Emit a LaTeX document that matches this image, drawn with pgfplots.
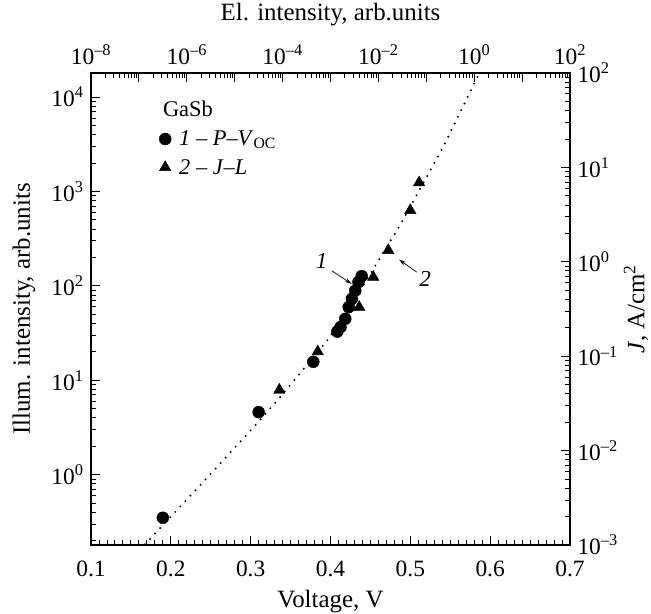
\documentclass[border=0pt]{standalone}
\usepackage{fontspec}
\setmainfont{Liberation Serif}
\usepackage{pgfplots}
\pgfplotsset{compat=1.18}
\usetikzlibrary{arrows.meta}
\newcommand\tp[1]{10\textsuperscript{#1}}
\pgfplotsset{
  common/.style={
    width=479bp, height=472bp, scale only axis,
    at={(0,0)}, anchor=south west,
    axis line style={-, line width=1.3bp, line cap=rect},
    every outer x axis line/.append style={-},
    every outer y axis line/.append style={-},
    tick style={line width=0.9bp, black},
    major tick length=9bp, minor tick length=5bp,
    tick align=inside,
    tick label style={font=\fontsize{23.5}{27}\selectfont},
    label style={font=\fontsize{25}{29}\selectfont, inner sep=0pt},
    /pgf/number format/assume math mode=true,
  }
}
\begin{document}
\begin{tikzpicture}
\path[use as bounding box] (-91bp,-69bp) rectangle (560bp,545bp);
\begin{axis}[common,
  axis x line*=bottom, axis y line*=left,
  xmin=0.1, xmax=0.7,
  xtick={0.1,0.2,0.3,0.4,0.5,0.6,0.7},
  xticklabels={0.1,0.2,0.3,0.4,0.5,0.6,0.7},
  minor x tick num=9,
  xticklabel style={yshift=-12bp},
  yticklabel style={xshift=-4bp},
  ymode=log, ymin=0.18, ymax=18000,
  ytick={1,10,100,1000,10000},
  yticklabels={\tp{0},\tp{1},\tp{2},\tp{3},\tp{4}},
  minor ytick={0.2,0.3,0.4,0.5,0.6,0.7,0.8,0.9,2,3,4,5,6,7,8,9,20,30,40,50,60,70,80,90,200,300,400,500,600,700,800,900,2000,3000,4000,5000,6000,7000,8000,9000},
  xlabel={Voltage, V},
  xlabel style={at={(axis description cs:0.5,0)}, anchor=center, yshift=-57bp},
  ylabel={Illum. intensity, arb.units},
  ylabel style={at={(axis description cs:0,0.5)}, anchor=center, yshift=67bp},
  legend style={draw=none, fill=none, inner sep=0pt, at={(axis description cs:0.142,0.882)}, anchor=north west,
    font=\fontsize{22.5}{27}\selectfont, row sep=8bp,
    /tikz/every odd column/.append style={column sep=6bp}},
  legend cell align=left,
]
\addplot[forget plot, black, line width=2.2bp, line cap=round, dash pattern=on 0bp off 7.4bp]
  coordinates {(0.1676,0.183) (0.25,1.02) (0.3083,3.52) (0.3368,6.61) (0.3965,26.8) (0.44,97.7) (0.4737,287) (0.4871,438) (0.5413,2979) (0.5865,18000)};
\addplot[only marks, mark=*, mark size=6bp, black]
  coordinates {(0.190,0.35) (0.310,4.6) (0.3785,15.7) (0.4085,32.8) (0.4125,36.5) (0.4185,44.8) (0.4228,59.6) (0.4268,73) (0.4310,89) (0.4350,110) (0.4391,127)};
\addlegendentry{\textit{1} -- \textit{P}--\textit{V}\textsubscript{OC}}
\addplot[only marks, mark=triangle*, mark size=6.6bp, black]
  coordinates {(0.336,7.9) (0.384,20.1) (0.436,59.6) (0.4536,124) (0.4724,238) (0.500,631) (0.511,1242)};
\addlegendentry{\textit{2} -- \textit{J}--\textit{L}}
\node[anchor=base west, font=\fontsize{22.5}{27}\selectfont, inner sep=0pt] at (axis cs:0.190,6300) {GaSb};
\node[font=\fontsize{23}{27}\selectfont\itshape] at (axis cs:0.389,186) {1};
\draw[line width=0.7bp, -{Stealth[length=7bp,width=4bp]}] (axis cs:0.4015,145) -- (axis cs:0.4266,105);
\node[font=\fontsize{23}{27}\selectfont\itshape] at (axis cs:0.5184,119) {2};
\draw[line width=0.7bp, -{Stealth[length=7bp,width=4bp]}] (axis cs:0.508,140) -- (axis cs:0.4858,190);
\end{axis}
\begin{axis}[common,
  axis x line*=top, axis y line*=right,
  xmode=log, xmin=1e-8, xmax=1e2,
  xtick={1e-8,1e-7,1e-6,1e-5,1e-4,1e-3,1e-2,1e-1,1,10,100},
  xticklabels={\tp{--8},{},\tp{--6},{},\tp{--4},{},\tp{--2},{},\tp{0},{},\tp{2}},
  xticklabel style={yshift=5bp},
  minor xtick={2e-8,3e-8,4e-8,5e-8,6e-8,7e-8,8e-8,9e-8,
    2e-7,3e-7,4e-7,5e-7,6e-7,7e-7,8e-7,9e-7,
    2e-6,3e-6,4e-6,5e-6,6e-6,7e-6,8e-6,9e-6,
    2e-5,3e-5,4e-5,5e-5,6e-5,7e-5,8e-5,9e-5,
    2e-4,3e-4,4e-4,5e-4,6e-4,7e-4,8e-4,9e-4,
    2e-3,3e-3,4e-3,5e-3,6e-3,7e-3,8e-3,9e-3,
    2e-2,3e-2,4e-2,5e-2,6e-2,7e-2,8e-2,9e-2,
    0.2,0.3,0.4,0.5,0.6,0.7,0.8,0.9,
    2,3,4,5,6,7,8,9,
    20,30,40,50,60,70,80,90},
  ymode=log, ymin=1e-3, ymax=1e2,
  ytick={1e-3,1e-2,1e-1,1,10,100},
  yticklabels={\tp{--3},\tp{--2},\tp{--1},\tp{0},\tp{1},\tp{2}},
  yticklabel style={xshift=4bp},
  minor ytick={0.002,0.003,0.004,0.005,0.006,0.007,0.008,0.009,
    0.02,0.03,0.04,0.05,0.06,0.07,0.08,0.09,
    0.2,0.3,0.4,0.5,0.6,0.7,0.8,0.9,
    2,3,4,5,6,7,8,9,
    20,30,40,50,60,70,80,90},
  xlabel={El. intensity, arb.units},
  xlabel style={at={(axis description cs:0.5,1)}, anchor=center, yshift=58bp},
  ylabel={\textit{J}, A/cm\textsuperscript{2}},
  ylabel style={at={(axis description cs:1,0.5)}, anchor=center, yshift=-66bp},
]
\end{axis}
\end{tikzpicture}
\end{document}
